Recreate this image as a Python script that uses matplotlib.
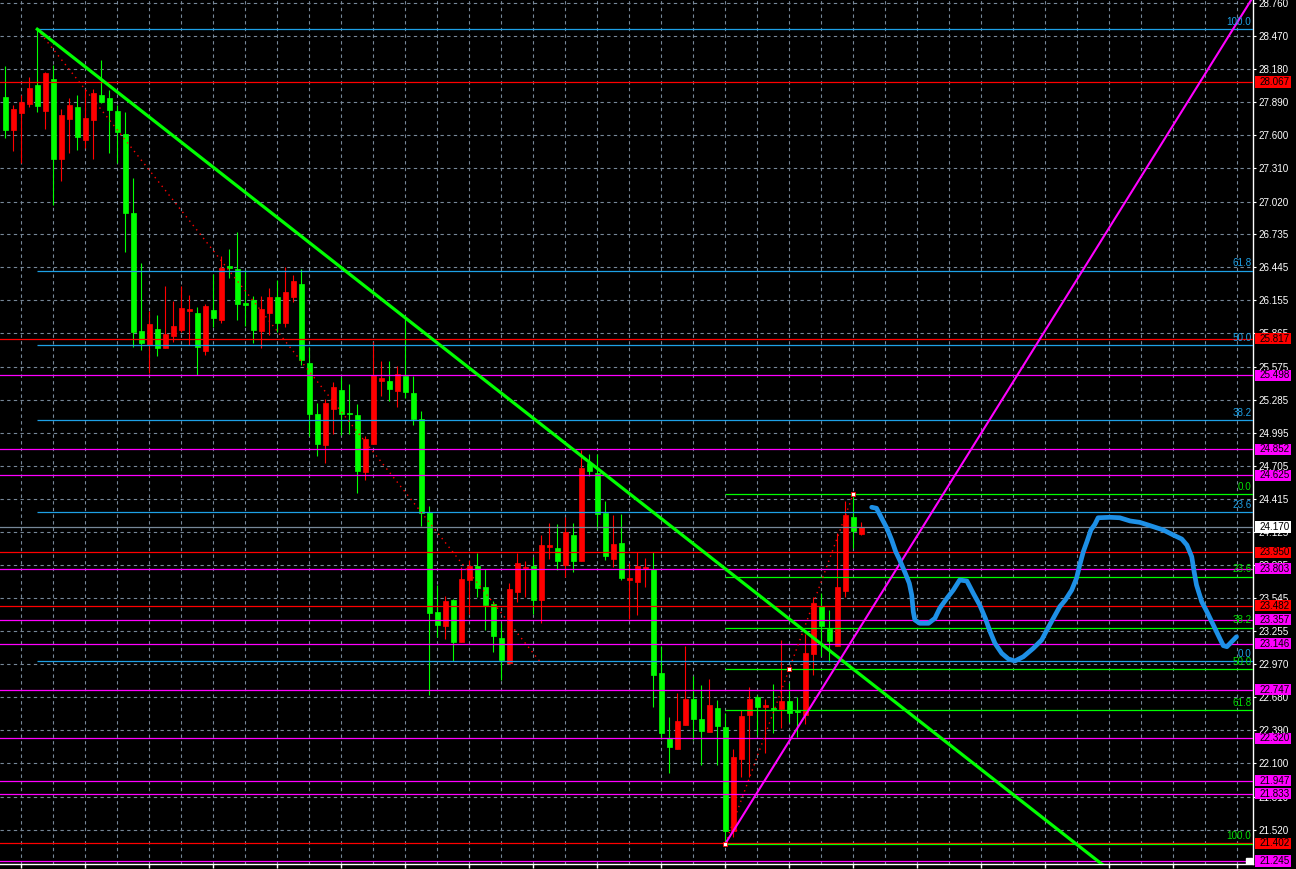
import matplotlib.pyplot as plt
from matplotlib.patches import Rectangle
import numpy as np

plt.rcParams["font.family"] = ["Liberation Sans", "DejaVu Sans"]

# candle data, one value per bar (bar index 0 .. 107)
opens = [27.936, 27.649, 27.798, 27.877, 28.041, 27.816, 28.093, 27.395, 27.743, 27.848,
         27.562, 27.737, 27.953, 27.927, 27.813, 27.612, 26.922, 25.886, 25.764, 25.904,
         25.740, 25.845, 25.898, 26.064, 26.044, 25.711, 26.070, 25.983, 26.456, 26.429,
         26.132, 26.158, 25.886, 26.044, 26.184, 25.956, 26.187, 26.298, 25.606, 25.160,
         24.888, 25.203, 25.370, 25.168, 25.151, 24.654, 24.899, 25.451, 25.449, 25.364,
         25.495, 25.344, 25.113, 24.304, 23.426, 23.306, 23.530, 23.166, 23.709, 23.829,
         23.645, 23.496, 23.198, 22.976, 23.603, 23.811, 23.829, 23.533, 23.992, 23.986,
         23.837, 24.100, 23.872, 24.728, 24.640, 24.293, 23.890, 24.030, 23.709, 23.691,
         23.805, 23.802, 22.889, 22.322, 22.229, 22.436, 22.664, 22.489, 22.378, 22.585,
         22.419, 21.508, 22.138, 22.524, 22.681, 22.594, 22.585, 22.576, 22.646, 22.561,
         22.524, 23.058, 23.481, 23.277, 23.131, 23.612, 24.258, 24.109]
highs = [28.207, 27.866, 27.953, 28.108, 28.529, 28.157, 28.216, 27.828, 27.927, 27.953,
         28.006, 28.006, 28.257, 27.997, 27.866, 27.804, 27.226, 26.479, 26.064, 26.027,
         26.283, 26.149, 26.283, 26.202, 26.099, 26.120, 26.386, 26.543, 26.605, 26.753,
         26.421, 26.193, 26.193, 26.266, 26.333, 26.444, 26.377, 26.427, 25.744, 25.256,
         25.291, 25.440, 25.484, 25.422, 25.247, 24.970, 25.787, 25.624, 25.624, 25.583,
         26.000, 25.495, 25.188, 24.354, 23.662, 23.568, 23.540, 23.817, 23.881, 23.940,
         23.802, 23.525, 23.327, 23.677, 23.940, 23.872, 23.910, 24.100, 24.202, 24.196,
         24.260, 24.202, 24.844, 24.807, 24.807, 24.395, 24.275, 24.284, 23.852, 23.949,
         23.896, 23.954, 23.128, 22.506, 22.714, 23.128, 22.865, 22.786, 22.839, 22.655,
         22.539, 22.223, 22.568, 22.766, 22.699, 22.664, 22.795, 23.181, 22.801, 22.684,
         23.233, 23.560, 23.589, 23.443, 24.115, 24.400, 24.459, 24.216]
lows = [27.574, 27.465, 27.355, 27.851, 27.802, 27.658, 26.990, 27.203, 27.448, 27.471,
        27.492, 27.395, 27.880, 27.448, 27.355, 26.581, 25.749, 25.720, 25.516, 25.667,
        25.735, 25.793, 25.880, 25.764, 25.501, 25.676, 25.924, 25.959, 26.353, 25.983,
        25.933, 25.784, 25.740, 25.849, 25.875, 25.921, 26.138, 25.589, 24.967, 24.792,
        24.733, 24.984, 24.976, 24.984, 24.470, 24.584, 24.897, 25.320, 25.276, 25.224,
        25.302, 25.066, 24.181, 22.699, 23.204, 23.189, 22.997, 23.163, 23.411, 23.560,
        23.268, 23.075, 22.830, 22.970, 23.516, 23.560, 23.411, 23.327, 23.892, 23.794,
        23.730, 23.773, 23.870, 24.617, 24.150, 23.881, 23.822, 23.706, 23.367, 23.399,
        23.647, 22.591, 22.311, 22.018, 22.224, 22.432, 22.305, 22.086, 22.375, 22.086,
        21.402, 21.458, 21.978, 21.978, 22.349, 22.194, 22.363, 22.413, 22.465, 22.334,
        22.445, 22.874, 23.040, 22.990, 23.128, 23.554, 23.989, 24.100]
closes = [27.649, 27.830, 27.892, 28.014, 27.859, 28.146, 27.395, 27.778, 27.866, 27.588,
          27.752, 27.971, 27.894, 27.824, 27.632, 26.922, 25.880, 25.784, 25.950, 25.740,
          25.863, 25.933, 26.088, 26.079, 25.749, 26.108, 26.003, 26.441, 26.438, 26.126,
          26.117, 25.895, 26.079, 26.184, 25.959, 26.228, 26.324, 25.635, 25.162, 24.899,
          25.256, 25.396, 25.162, 25.160, 24.660, 24.941, 25.498, 25.477, 25.381, 25.510,
          25.352, 25.116, 24.295, 23.420, 23.314, 23.522, 23.166, 23.715, 23.831, 23.639,
          23.487, 23.218, 23.005, 23.627, 23.855, 23.822, 23.533, 24.012, 24.012, 23.872,
          24.129, 23.872, 24.687, 24.660, 24.287, 23.916, 24.021, 23.723, 23.723, 23.829,
          23.817, 22.877, 22.369, 22.246, 22.471, 22.664, 22.489, 22.386, 22.611, 22.430,
          21.508, 22.156, 22.515, 22.664, 22.594, 22.611, 22.574, 22.646, 22.544, 22.553,
          23.067, 23.505, 23.303, 23.172, 23.645, 24.275, 24.132, 24.170]

# right price scale
price_ticks = [28.760, 28.470, 28.180, 27.890, 27.600, 27.310, 27.020, 26.735, 26.445,
               26.155, 25.865, 25.575, 25.285, 24.995, 24.705, 24.415, 24.125, 23.835,
               23.545, 23.255, 22.970, 22.680, 22.390, 22.100, 21.810, 21.520]

# horizontal levels
red_levels = [28.067, 25.817, 23.950, 23.482, 21.402]
magenta_levels = [25.498, 24.852, 24.625, 23.803, 23.357, 23.146, 22.747, 22.320,
                  21.947, 21.833, 21.245]
current_price = 24.170

# fibonacci retracements (bar, price) of the anchors
fib_ratios = [0.0, 23.6, 38.2, 50.0, 61.8, 100.0]
fib1_bars = [4, 66.8]
fib1_prices = [28.529, 22.994]   # 100 -> 0
fib2_bars = [90, 98, 106]
fib2_prices = [21.397, 22.928, 24.459]   # 100 -> mid -> 0

# trend lines
down_bars = [4, 141]
down_prices = [28.529, 21.002]
up_bars = [90, 156]
up_prices = [21.397, 28.815]

# hand drawn projection
curve_bars = [108.3, 108.9, 109.55, 110.2, 110.8, 111.3, 111.8, 112.5, 113.0, 113.3,
              113.5, 113.7, 114.3, 115.4, 116.2, 116.8, 117.7, 118.5, 119.3, 120.2,
              121.0, 121.8, 122.5, 123.1, 123.7, 124.55, 125.4, 126.2, 127.25, 128.5,
              129.55, 130.2, 131.0, 131.8, 132.5, 133.3, 133.9, 134.3, 134.75, 135.2,
              135.7, 136.2, 136.6, 138.1, 139.3, 140.6, 141.8, 143.1, 144.75, 146.0,
              147.05, 147.7, 148.3, 148.6, 148.9, 149.55, 150.2, 151.0, 151.6, 152.25,
              152.7, 153.3, 153.9]
curve_prices = [24.343, 24.334, 24.246, 24.159, 24.056, 23.954, 23.881, 23.765, 23.677,
                23.575, 23.428, 23.356, 23.327, 23.327, 23.371, 23.458, 23.546, 23.618,
                23.706, 23.697, 23.589, 23.487, 23.371, 23.253, 23.152, 23.064, 23.014,
                22.997, 23.034, 23.108, 23.181, 23.268, 23.371, 23.472, 23.531, 23.618,
                23.721, 23.837, 23.954, 24.041, 24.144, 24.194, 24.251, 24.255, 24.251,
                24.223, 24.211, 24.182, 24.144, 24.100, 24.065, 24.012, 23.910, 23.779,
                23.662, 23.516, 23.428, 23.312, 23.224, 23.131, 23.122, 23.166, 23.209]

GREEN = "#00ff00"
RED = "#ff0000"
MAGENTA = "#ff00ff"
FIB_BLUE = "#1ea0e6"
LABEL_SIZE = 7.1

fig = plt.figure(figsize=(12.96, 8.69), dpi=100, facecolor="black")
ax = fig.add_axes([0, 5 / 869, 1253 / 1296, 864 / 869])
ax.set_facecolor("black")

bars = np.arange(len(opens))
o = np.array(opens)
c = np.array(closes)
colors = np.where(c > o, RED, GREEN)

# candles
ax.vlines(bars, lows, highs, colors=colors, lw=0.8, zorder=2)
ax.bar(bars, np.abs(c - o), bottom=np.minimum(o, c), width=0.56, color=colors,
       edgecolor=colors, linewidth=0.5, zorder=2)

# horizontal levels
for lv in red_levels:
    ax.axhline(lv, color=RED, lw=0.9, zorder=3)
for lv in magenta_levels:
    ax.axhline(lv, color=MAGENTA, lw=0.9, zorder=3)
ax.axhline(current_price, color="#778899", lw=0.9, zorder=3)

# fibo 1 (blue)
f1_hi, f1_lo = fib1_prices
for r in fib_ratios:
    lv = f1_lo + r / 100 * (f1_hi - f1_lo)
    ax.hlines(lv, fib1_bars[0], 160, color=FIB_BLUE, lw=0.9, zorder=3)
    ax.text(155.75, lv + 0.02, f"{r:.1f}", color=FIB_BLUE, fontsize=LABEL_SIZE,
            ha="right", va="bottom", zorder=6)
ax.plot(fib1_bars, fib1_prices, color=RED, lw=1.0, ls=(0, (1, 3)), zorder=3)

# fibo 2 (green)
f2_lo, f2_hi = fib2_prices[0], fib2_prices[-1]
for r in fib_ratios:
    lv = f2_hi - r / 100 * (f2_hi - f2_lo)
    ax.hlines(lv, fib2_bars[0], 160, color=GREEN, lw=0.9, zorder=3)
    ax.text(155.75, lv + 0.02, f"{r:.1f}", color="#00e000", fontsize=LABEL_SIZE,
            ha="right", va="bottom", zorder=6)
ax.plot([fib2_bars[0], fib2_bars[-1]], [f2_lo, f2_hi], color=RED, lw=1.0,
        ls=(0, (1, 3)), zorder=3)
ax.plot(fib2_bars, fib2_prices, ls="none", marker="s", ms=3.5, mfc="white",
        mec=RED, mew=0.6, zorder=5)
ax.plot([155.5], [magenta_levels[-1]], ls="none", marker="s", ms=4, mfc="white",
        mec="white", zorder=5)

# trend lines
ax.plot(down_bars, down_prices, color=GREEN, lw=2.3, zorder=4)
ax.plot(up_bars, up_prices, color=MAGENTA, lw=1.5, zorder=4)

# projection
ax.plot(curve_bars, curve_prices, color="#1e90e6", lw=3.4, solid_capstyle="round",
        solid_joinstyle="round", zorder=5)

# axes, grid, price scale
ax.set_xlim(-0.66, 155.96)
ax.set_ylim(21.219, 28.785)
ax.set_xticks(np.arange(2, 156, 8))
ax.set_xticks(np.arange(2, 156, 4), minor=True)
ax.set_yticks(price_ticks)
ax.set_yticklabels([f"{p:.3f}" for p in price_ticks])
ax.grid(True, which="both", axis="x", color="#778899", lw=0.8, ls=(0, (3, 3)), zorder=0.5)
ax.grid(True, which="major", axis="y", color="#778899", lw=0.8, ls=(0, (3, 3)), zorder=0.5)
ax.set_axisbelow(True)
ax.yaxis.tick_right()
ax.tick_params(axis="y", colors="white", labelsize=LABEL_SIZE, length=2.2, width=0.8,
               pad=2.1)
ax.tick_params(axis="x", which="major", colors="white", length=3, width=1,
               labelbottom=False)
ax.tick_params(axis="x", which="minor", length=0)
for side in ["left", "top"]:
    ax.spines[side].set_visible(False)
for side in ["right", "bottom"]:
    ax.spines[side].set_color("white")
    ax.spines[side].set_linewidth(1)

# coloured price tags on the scale
tagged = [(lv, RED) for lv in red_levels] + [(lv, MAGENTA) for lv in magenta_levels]
tagged.append((current_price, "white"))
trans = ax.get_yaxis_transform()
tag_h = 0.097
for lv, col in tagged:
    ax.add_patch(Rectangle((1.0016, lv - tag_h / 2), 0.0290, tag_h, transform=trans,
                           facecolor=col, edgecolor="none", clip_on=False, zorder=7))
    ax.text(1.0048, lv, f"{lv:.3f}", transform=trans, ha="left", va="center",
            fontsize=LABEL_SIZE, color="black", clip_on=False, zorder=8)

fig.savefig("out.png", dpi=100, facecolor="black")
